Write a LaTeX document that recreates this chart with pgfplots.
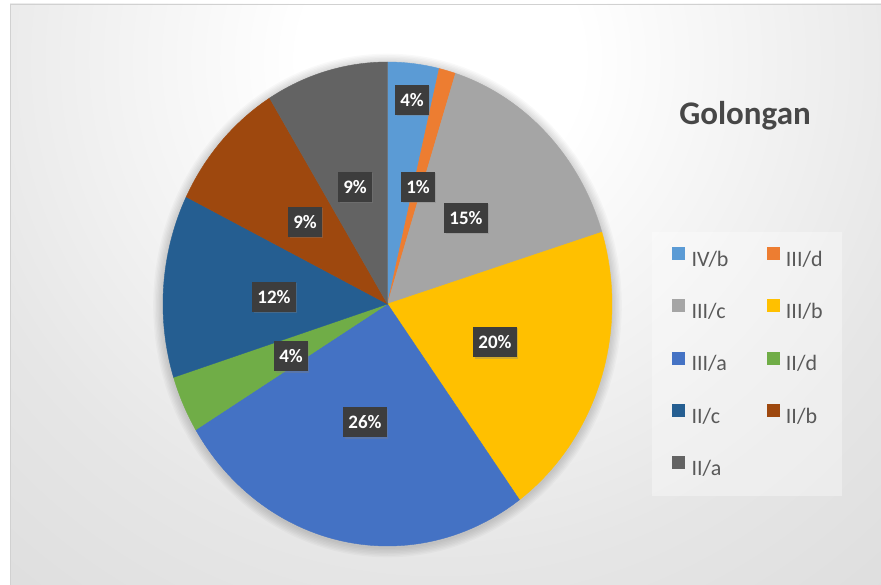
\documentclass[border=0pt]{standalone}
\usepackage{pgfplots}
\pgfplotsset{compat=1.18}
\usepackage{pgfplotstable}
\usetikzlibrary{shadows}
\usepackage{fontspec}
\setmainfont{Carlito}

\definecolor{ivb}{HTML}{5B9BD5}
\definecolor{iiid}{HTML}{ED7D31}
\definecolor{iiic}{HTML}{A5A5A5}
\definecolor{iiib}{HTML}{FFC000}
\definecolor{iiia}{HTML}{4472C4}
\definecolor{iid}{HTML}{70AD47}
\definecolor{iic}{HTML}{255E91}
\definecolor{iib}{HTML}{9E480E}
\definecolor{iia}{HTML}{636363}
\definecolor{bgone}{HTML}{E6E6E6}
\definecolor{bgmid}{HTML}{D2D2D2}
\definecolor{bgedge}{HTML}{C3C3C3}
\definecolor{labelbg}{HTML}{3D3D3D}
\definecolor{legendtext}{HTML}{595959}
\definecolor{titletext}{HTML}{474747}

\pgfdeclareradialshading{bgrad}{\pgfpoint{0bp}{0bp}}{color(0bp)=(white); color(5bp)=(white); color(18bp)=(bgone); color(35bp)=(bgmid); color(50bp)=(bgedge)}

% value = share of each Golongan (percent), pct = printed label, lx/ly = label position
\pgfplotstableread{
name value pct lx ly color
IV/b 3.7 4 412 100 ivb
III/d 1.2 1 418 187 iiid
III/c 15.3 15 466 218 iiic
III/b 19.8 20 495 342 iiib
III/a 26.3 26 365 422 iiia
II/d 3.8 4 291 356 iid
II/c 12.2 12 274 297 iic
II/b 8.9 9 305 222 iib
II/a 8.8 9 355 187 iia
}\slices

\begin{document}
\begin{tikzpicture}
\begin{axis}[
  scale only axis, width=881pt, height=585pt,
  xmin=0, xmax=881, ymin=0, ymax=585, y dir=reverse,
  hide axis, clip=false,
  legend columns=2, legend cell align=left,
  legend style={at={(axis cs:652,232)}, anchor=north west, draw=none, fill=none,
    font=\fontsize{22}{26}\selectfont, text=legendtext,
    inner xsep=20pt, inner ysep=15pt, row sep=26pt,
    nodes={inner sep=2pt, text height=15pt, text depth=5pt},
    /tikz/every odd column/.style={column sep=5pt},
    /tikz/every even column/.style={column sep=36pt}},
  legend image code/.code={\fill[#1] (0pt,2pt) rectangle (12pt,14pt);},
]
% chart area background
\fill[bgedge] (axis cs:10,4) rectangle (axis cs:895,600);
\begin{scope}
\clip (axis cs:10,4) rectangle (axis cs:895,600);
\shade[shading=bgrad] (axis cs:440,60) circle[radius=700];
\end{scope}
\draw[black!18, line width=1pt] (axis cs:10.5,600) -- (axis cs:10.5,4.5) -- (axis cs:895,4.5);
% legend background
\fill[white, opacity=0.35] (axis cs:652,232) rectangle (axis cs:842,496);
% pie soft shadow
\pgfplotsinvokeforeach{1,...,7}{
  \fill[black, opacity=0.025] (axis cs:387.5,305.5) ellipse[x radius={224.5+#1*1.4}, y radius={242+#1*1.4}];
}
% slices
\def\cum{0}
\pgfplotsforeachungrouped \i in {0,...,8}{%
  \pgfplotstablegetelem{\i}{value}\of\slices \let\slval\pgfplotsretval
  \pgfplotstablegetelem{\i}{name}\of\slices \let\slname\pgfplotsretval
  \pgfplotstablegetelem{\i}{color}\of\slices \let\slcol\pgfplotsretval
  \pgfmathsetmacro\slend{\cum+\slval}%
  \edef\tmp{\noexpand\addplot[fill=\slcol, draw=\slcol, line width=0.4pt, domain=\cum:\slend, samples=90]
    ({387.5+224.5*sin(3.6*x)},{304-242*cos(3.6*x)}) -- (axis cs:387.5,304) -- cycle;
    \noexpand\addlegendentry{\slname}}%
  \tmp
  \global\let\cum\slend
}
% data labels
\addplot[draw=none, mark=none, forget plot, point meta=explicit symbolic,
  nodes near coords={\pgfplotspointmeta\%},
  nodes near coords style={anchor=center, fill=labelbg, text=white,
    font=\fontsize{19}{22}\selectfont\bfseries, inner xsep=5pt, inner ysep=0pt,
    minimum height=30pt,
    drop shadow={shadow xshift=1.5pt, shadow yshift=-1.5pt, opacity=0.35}}]
  table[x=lx, y=ly, meta=pct] {\slices};
% title
\node[anchor=base, font=\fontsize{33}{40}\selectfont\bfseries, text=titletext] at (axis cs:745,125) {Golongan};
\end{axis}
\pgfresetboundingbox
\path[use as bounding box] (current axis.south west) rectangle (current axis.north east);
\end{tikzpicture}
\end{document}
